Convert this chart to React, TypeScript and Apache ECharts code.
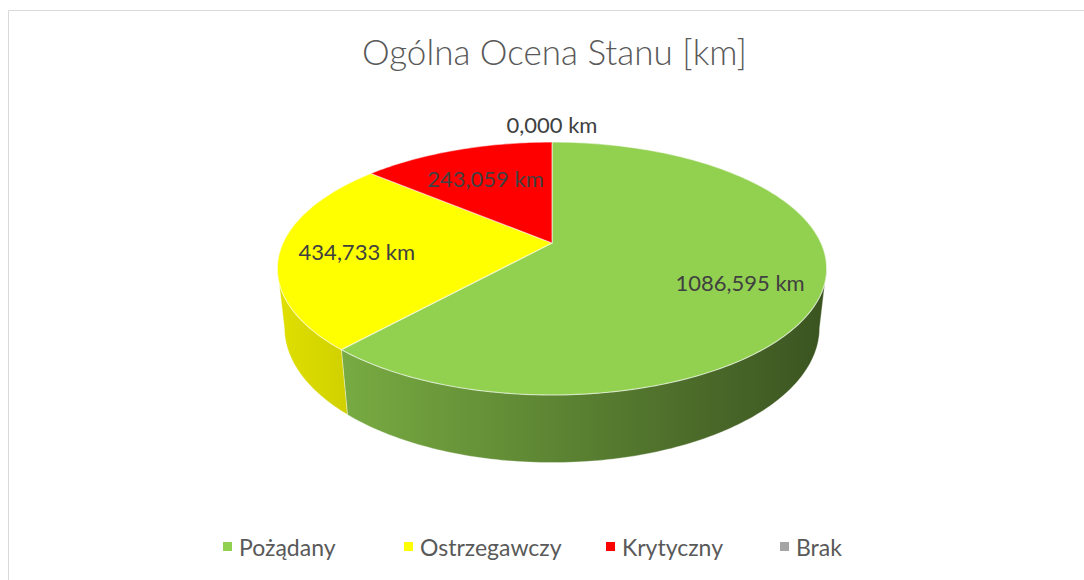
import React, { useEffect, useRef } from "react";
import * as echarts from "echarts";

const TITLE = "Ogólna Ocena Stanu [km]";
const CATEGORIES = ["Pożądany", "Ostrzegawczy", "Krytyczny", "Brak"];
const VALUES = [1086.595, 434.733, 243.059, 0];
const COLORS = ["#92D050", "#FFFF00", "#FF0000", "#A5A5A5"];
const UNIT = "km";

const FONT = "Lato, Carlito, 'Open Sans', sans-serif";
const LEGEND_LEFTS = [223, 404, 606, 780];

function fmt(v: number): string {
  return v.toFixed(3).replace(".", ",") + " " + UNIT;
}

// 3D projection parameters (layout, not data)
const CX = 552;
const CY = 243;
const K = 269;
const SIN = 0.451;
const COS = Math.sqrt(1 - SIN * SIN);
const DIST = 4.427;
const THICK = 0.248;

function proj(u: number, v: number, down: number): number[] {
  const y = -THICK * down;
  const yc = y * COS - v * SIN;
  const zc = y * SIN + v * COS;
  const s = DIST / (DIST - zc);
  return [CX + K * u * s, CY - K * yc * s];
}

function rim(theta: number, r: number, down: number): number[] {
  const a = (theta * Math.PI) / 180;
  return proj(r * Math.sin(a), -r * Math.cos(a), down);
}

function hexToRgb(hex: string): number[] {
  const h = hex.replace("#", "");
  return [0, 2, 4].map((i) => parseInt(h.substr(i, 2), 16));
}

function scaleColor(hex: string, k: number): string {
  const [r, g, b] = hexToRgb(hex);
  const c = (x: number) => Math.max(0, Math.min(255, Math.round(x * k)));
  return `rgb(${c(r)},${c(g)},${c(b)})`;
}

function arcPoints(a0: number, a1: number, r: number, down: number): number[][] {
  const n = Math.max(2, Math.ceil(Math.abs(a1 - a0)));
  const pts: number[][] = [];
  for (let k = 0; k <= n; k++) {
    pts.push(rim(a0 + ((a1 - a0) * k) / n, r, down));
  }
  return pts;
}

// label placement rule by share of total (layout)
function labelPlacement(share: number): { r: number; dy: number } {
  if (share === 0) return { r: 1.2, dy: -1 };
  if (share < 0.2) return { r: 0.66, dy: 0 };
  if (share > 0.5) return { r: 0.71, dy: 7 };
  return { r: 0.72, dy: 2 };
}

export default function App() {
  const ref = useRef<HTMLDivElement>(null);

  useEffect(() => {
    const chart = echarts.init(ref.current!, null, { renderer: "svg" });
    const total = VALUES.reduce((a, b) => a + b, 0);
    const starts: number[] = [];
    let acc = 0;
    VALUES.forEach((v) => {
      starts.push((acc / total) * 360);
      acc += v;
    });
    const visMin = (Math.acos(-0.2) * 180) / Math.PI;
    const visMax = 360 - visMin;

    const renderItem = (params: any, api: any) => {
      const i = params.dataIndex;
      const value = api.value(0) as number;
      const share = value / total;
      const a0 = starts[i];
      const a1 = a0 + share * 360;
      const base = COLORS[i];
      const children: any[] = [];

      if (value > 0) {
        // side wall (front, visible part)
        const w0 = Math.max(a0, visMin);
        const w1 = Math.min(a1, visMax);
        if (w1 > w0) {
          const top = arcPoints(w0, w1, 1, 0);
          const bot = arcPoints(w0, w1, 1, 1).reverse();
          const stops = [0, 0.25, 0.5, 0.75, 1].map((f) => ({
            offset: f,
            color: scaleColor(base, 0.88 - 0.48 * f),
          }));
          children.push({
            type: "polygon",
            shape: { points: top.concat(bot) },
            style: {
              fill: new echarts.graphic.LinearGradient(
                CX - K * 1.03,
                0,
                CX + K * 1.03,
                0,
                stops,
                true
              ),
              stroke: "rgba(255,255,255,0.35)",
              lineWidth: 1,
            },
          });
        }
        // top face
        const pts = [proj(0, 0, 0)].concat(arcPoints(a0, a1, 1, 0));
        children.push({
          type: "polygon",
          shape: { points: pts },
          style: {
            fill: base,
            stroke: "rgba(255,255,255,0.5)",
            lineWidth: 1.2,
            lineJoin: "round",
          },
        });
      }

      // label
      const mid = (a0 + a1) / 2;
      const pl = labelPlacement(share);
      const p = rim(mid, pl.r, 0);
      children.push({
        type: "text",
        x: p[0],
        y: p[1] + pl.dy,
        style: {
          text: fmt(value),
          fill: "#404040",
          fontSize: 22,
          fontFamily: FONT,
          align: "center",
          verticalAlign: "middle",
          textAlign: "center",
          textVerticalAlign: "middle",
        },
      });

      return { type: "group", children };
    };

    chart.setOption({
      animation: false,
      backgroundColor: "#ffffff",
      title: {
        text: TITLE,
        left: 357,
        top: 28,
        padding: 5,
        textStyle: {
          fontFamily: FONT,
          fontSize: 35,
          fontWeight: 300,
          color: "#595959",
        },
      },
      legend: CATEGORIES.map((name, i) => ({
        data: [name],
        top: 535,
        left: LEGEND_LEFTS[i],
        padding: 0,
        icon: "rect",
        itemWidth: 9,
        itemHeight: 9,
        textStyle: {
          fontFamily: FONT,
          fontSize: 23,
          color: "#595959",
          padding: [0, 0, 0, 2],
        },
        selectedMode: false,
      })),
      graphic: [
        {
          type: "rect",
          shape: { x: 8.5, y: 10.5, width: 1200, height: 700 },
          style: { fill: "none", stroke: "#d9d9d9", lineWidth: 1 },
          silent: true,
        },
      ],
      series: [
        {
          type: "custom",
          coordinateSystem: "none",
          renderItem,
          data: VALUES.map((v, i) => ({ name: CATEGORIES[i], value: v })),
          silent: true,
        },
        {
          type: "pie",
          center: [-200, -200],
          radius: 1,
          silent: true,
          label: { show: false },
          labelLine: { show: false },
          data: VALUES.map((v, i) => ({
            name: CATEGORIES[i],
            value: v,
            itemStyle: { color: COLORS[i] },
          })),
        },
      ],
    });

    return () => chart.dispose();
  }, []);

  return (
    <div
      ref={ref}
      style={{ position: "absolute", left: 0, top: 0, width: 1084, height: 580 }}
    />
  );
}
